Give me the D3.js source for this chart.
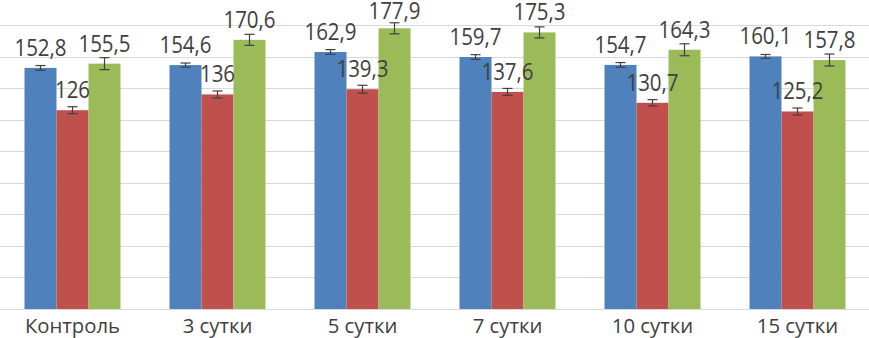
<!DOCTYPE html>
<meta charset="UTF-8">
<style>
	body { margin: 0; background: #fff; }
	.grid line { stroke: #d9d9d9; stroke-width: 1px; }
	.lbl { font-family: "Open Sans", sans-serif; fill: #404040; }
	.err { stroke: #404040; stroke-width: 1.2px; fill: none; }
</style>
<body>
	<script src="https://d3js.org/d3.v7.min.js"></script>
	<script>
		// categories and series
		var categories = ["Контроль", "3 сутки", "5 сутки", "7 сутки", "10 сутки", "15 сутки"];
		var seriesNames = ["s1", "s2", "s3"];
		var seriesColors = ["#4f81bd", "#c0504d", "#9bbb59"];

		var blueValues = [152.8, 154.6, 162.9, 159.7, 154.7, 160.1];
		var redValues = [126, 136, 139.3, 137.6, 130.7, 125.2];
		var greenValues = [155.5, 170.6, 177.9, 175.3, 164.3, 157.8];

		var blueErr = [1.5, 1.3, 1.5, 1.5, 1.5, 1.2];
		var redErr = [2.2, 2.2, 2.5, 2.2, 2.0, 2.2];
		var greenErr = [3.8, 3.5, 3.5, 3.5, 3.8, 3.8];

		var yTicks = [0, 20, 40, 60, 80, 100, 120, 140, 160, 180];

		var width = 869, height = 338;

		var svg = d3.select("body").append("svg")
			.attr("width", width)
			.attr("height", height);

		var x0 = d3.scaleBand()
			.domain(categories)
			.range([0, 870])
			.paddingInner(0.338)
			.paddingOuter(0.169);

		var x1 = d3.scaleBand()
			.domain(seriesNames)
			.range([0, x0.bandwidth()]);

		var y = d3.scaleLinear()
			.domain([0, 180])
			.range([309, 25]);

		// horizontal gridlines
		svg.append("g").attr("class", "grid")
			.selectAll("line")
			.data(yTicks)
			.join("line")
			.attr("x1", 0)
			.attr("x2", width)
			.attr("y1", d => Math.round(y(d)) + 0.5)
			.attr("y2", d => Math.round(y(d)) + 0.5);

		var rows = [];
		[blueValues, redValues, greenValues].forEach((vals, si) => {
			var errs = [blueErr, redErr, greenErr][si];
			vals.forEach((v, ci) => {
				rows.push({ cat: categories[ci], s: seriesNames[si], color: seriesColors[si], v: v, e: errs[ci] });
			});
		});

		var fmt = v => String(v).replace(".", ",");

		svg.append("g")
			.selectAll("rect")
			.data(rows)
			.join("rect")
			.attr("x", d => x0(d.cat) + x1(d.s))
			.attr("width", x1.bandwidth())
			.attr("y", d => y(d.v))
			.attr("height", d => y(0) - y(d.v))
			.attr("fill", d => d.color);

		// error bars
		var eg = svg.append("g").selectAll("g")
			.data(rows)
			.join("g")
			.attr("class", "err");
		var cx = d => x0(d.cat) + x1(d.s) + x1.bandwidth() / 2;
		eg.append("line")
			.attr("x1", cx).attr("x2", cx)
			.attr("y1", d => y(d.v + d.e)).attr("y2", d => y(d.v - d.e));
		eg.append("line")
			.attr("x1", d => cx(d) - 5).attr("x2", d => cx(d) + 5)
			.attr("y1", d => y(d.v + d.e)).attr("y2", d => y(d.v + d.e));
		eg.append("line")
			.attr("x1", d => cx(d) - 5).attr("x2", d => cx(d) + 5)
			.attr("y1", d => y(d.v - d.e)).attr("y2", d => y(d.v - d.e));

		// value labels, kept inside the plot like excel does
		var labelY = d => Math.max(19, y(d.v) - 12);
		svg.append("g")
			.selectAll("text")
			.data(rows)
			.join("text")
			.attr("class", "lbl")
			.attr("transform", d => `translate(${cx(d)},${labelY(d)}) scale(1,1.13)`)
			.attr("text-anchor", "middle")
			.style("font-size", "20.5px")
			.text(d => fmt(d.v));

		// category labels
		svg.append("g")
			.selectAll("text")
			.data(categories)
			.join("text")
			.attr("class", "lbl")
			.attr("x", d => x0(d) + x0.bandwidth() / 2)
			.attr("y", 333)
			.attr("text-anchor", "middle")
			.style("font-size", "20.3px")
			.text(d => d);
	</script>
</body>
